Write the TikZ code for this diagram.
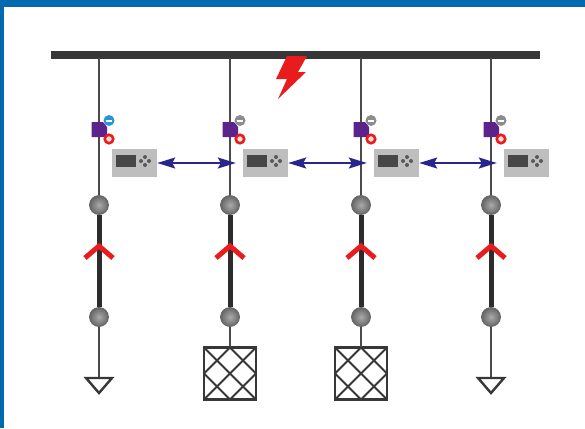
\documentclass[tikz,border=0pt]{standalone}
\usepackage{tikz}
\usetikzlibrary{arrows.meta,calc,positioning}
\definecolor{framecolor}{RGB}{0,105,175}
\definecolor{busdark}{RGB}{55,55,55}
\definecolor{linkblue}{RGB}{38,38,140}
\definecolor{breakerpurple}{RGB}{92,35,140}
\definecolor{faultred}{RGB}{232,28,28}
\definecolor{relaygray}{RGB}{190,190,190}
\definecolor{statusblue}{RGB}{40,150,215}
\definecolor{statusgray}{RGB}{140,140,140}

\begin{document}
\begin{tikzpicture}[
    x=1pt, y=-1pt,
    busbar/.style={fill=busdark, inner sep=0pt, minimum width=489pt, minimum height=7.5pt},
    feeder/.style={draw=busdark!90, line width=2.8pt},
    cable/.style={draw=busdark!80!black, line width=5pt},
    contact/.style={circle, draw=black!60, line width=0.8pt, inner sep=0pt, minimum size=19pt, inner color=black!33, outer color=black!60},
    plug/.style={draw=faultred, line width=5pt, miter limit=10},
    breaker/.style={fill=breakerpurple},
    led/.style={circle, fill=faultred!15, line width=2.6pt, inner sep=0pt, minimum size=8.5pt},
    lamp/.style={circle, inner sep=0pt, minimum size=11pt},
    lampdash/.style={fill=white, inner sep=0pt, minimum width=6pt, minimum height=2pt},
    relay/.style={fill=relaygray, inner sep=0pt, minimum width=45pt, minimum height=28pt},
    screen/.style={fill=black!72, inner sep=0pt, minimum width=20pt, minimum height=12pt},
    padkey/.style={circle, fill=black!65, inner sep=0pt, minimum size=4pt},
    link/.style={draw=linkblue, line width=1.6pt, <->, >={Stealth[length=18pt,width=11pt,inset=3pt]}, shorten >=7pt},
    motor/.style={draw=busdark, line width=2.6pt, inner sep=0pt, outer sep=0pt, minimum size=52pt},
    hatch/.style={draw=busdark, line width=2pt, line join=bevel},
    earth/.style={draw=busdark, line width=2.4pt, line join=miter}
]
\useasboundingbox (0,0) rectangle (585,428);

% frame
\fill[framecolor] (0,0) rectangle (585,7);
\fill[framecolor] (0,0) rectangle (4,428);

% main bus
\node[busbar] (bus) at (295.5,55) {};

% contacts, relays
\foreach \i/\x in {1/99,2/230,3/361,4/491}{
    \coordinate (top\i) at (\x,58);
    \node[contact] (upper\i) at (\x,205) {};
    \node[contact] (lower\i) at (\x,317) {};
    \node[relay] (relay\i) at (\x+35.5,163) {};
    \node[screen] (screen\i) at (\x+27,161) {};
    \node[padkey] at (\x+46,157) {};
    \node[padkey] at (\x+42,161) {};
    \node[padkey] at (\x+50,161) {};
    \node[padkey] at (\x+46,165) {};
    \draw[feeder] (top\i) -- (upper\i);
    \draw[cable] (upper\i) -- (lower\i);
    \draw[plug] (\x-14,258) -- (\x,246) -- (\x+14,258);
    \fill[breaker] (\x-7.5,122) -- (\x+4,122) -- (\x+8,127) -- (\x+8,137) -- (\x-7.5,137) -- cycle;
    \node[led, draw=faultred] (trip\i) at (\x+10,139) {};
}

% status lamps
\foreach \i/\x/\c in {1/109/statusblue,2/240/statusgray,3/371/statusgray,4/501/statusgray}{
    \node[lamp, fill=\c] (lamp\i) at (\x,120.5) {};
    \node[lampdash] at (lamp\i) {};
}

% links between relays
\foreach \a/\b in {1/2,2/3,3/4}{
    \draw[link] (relay\a) -- (relay\b);
}

% loads
\foreach \i/\x in {2/230,3/361}{
    \node[motor] (load\i) at (\x,373.5) {};
    \draw[feeder] (lower\i) -- (load\i);
    \draw[hatch] (load\i.north west) -- (load\i.south east);
    \draw[hatch] (load\i.north east) -- (load\i.south west);
    \draw[hatch] (load\i.north) -- (load\i.east) -- (load\i.south) -- (load\i.west) -- cycle;
}
\foreach \i/\x in {1/99,4/491}{
    \coordinate (foot\i) at (\x,378);
    \draw[feeder] (lower\i) -- (foot\i);
    \draw[earth] ($(foot\i)+(-13,0)$) -- ($(foot\i)+(13,0)$) -- ($(foot\i)+(0,15)$) -- cycle;
}

% fault
\fill[faultred] (287,56) -- (307,56) -- (298,72) -- (306,72) -- (278,99) -- (287,79) -- (276,79) -- cycle;

\end{tikzpicture}
\end{document}
